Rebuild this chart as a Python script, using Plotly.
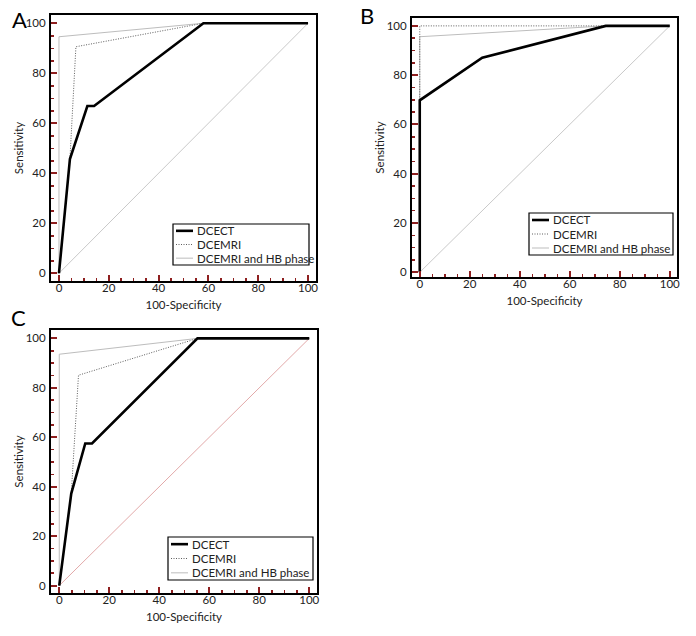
import plotly.graph_objects as go

W, H = 696, 636

# ---------------- data ----------------
series_names = ["DCECT", "DCEMRI", "DCEMRI and HB phase"]

# Panel A
a_dcect_x = [0, 4.4, 11.4, 14.1, 58, 100]
a_dcect_y = [0, 45.7, 66.9, 66.9, 100, 100]
a_mri_x = [0, 4.4, 6.8, 58, 100]
a_mri_y = [0, 45.7, 90.6, 100, 100]
a_hb_x = [0, 0, 58, 100]
a_hb_y = [0, 94.6, 100, 100]

# Panel B
b_dcect_x = [0, 0, 25, 74.4, 100]
b_dcect_y = [0, 69.8, 87.1, 100, 100]
b_mri_x = [0, 0, 100]
b_mri_y = [0, 100, 100]
b_hb_x = [0, 0, 74.4, 100]
b_hb_y = [0, 95.6, 100, 100]

# Panel C
c_dcect_x = [0, 4.8, 10.4, 13.1, 55.3, 100]
c_dcect_y = [0, 37.2, 57.5, 57.5, 100, 100]
c_mri_x = [0, 4.8, 7.7, 55.3, 100]
c_mri_y = [0, 37.2, 85.1, 100, 100]
c_hb_x = [0, 0, 55.3, 100]
c_hb_y = [0, 93.6, 100, 100]

diag_x = [0, 100]
diag_y = [0, 100]

tick_vals = [0, 20, 40, 60, 80, 100]
tick_text = ["0", "20", "40", "60", "80", "100"]

# ---------------- styles ----------------
FONT = "Lato, Roboto, sans-serif"
TXT = "#222222"
TICKRED = "#8e1f1f"
styles = [
    dict(color="black", width=2.6, dash="solid"),
    dict(color="#5e5e5e", width=1, dash="1px,1.5px"),
    dict(color="#bdbdbd", width=1, dash="solid"),
]


def fx(px):
    return px / W


def fy(py):
    return 1 - py / H


panels = [
    dict(letter="A", box=(51, 15, 316, 281), xr=[-3.2, 103.2], yr=[-3.1, 103.3],
         data=[(a_dcect_x, a_dcect_y), (a_mri_x, a_mri_y), (a_hb_x, a_hb_y)],
         diag="#c9c9c9", leg=(173, 224, 309, 265), lpos=(19, 19)),
    dict(letter="B", box=(412, 18, 677, 277), xr=[-3.1, 102.9], yr=[-1.9, 103.2],
         data=[(b_dcect_x, b_dcect_y), (b_mri_x, b_mri_y), (b_hb_x, b_hb_y)],
         diag="#c9c9c9", leg=(529, 213, 673, 255), lpos=(367, 16)),
    dict(letter="C", box=(51, 330, 317, 593), xr=[-3.3, 103.1], yr=[-3.0, 103.4],
         data=[(c_dcect_x, c_dcect_y), (c_mri_x, c_mri_y), (c_hb_x, c_hb_y)],
         diag="#e2a9a9", leg=(168, 537, 313, 580), lpos=(18, 317)),
]

fig = go.Figure()
shapes = []
annotations = []

for i, p in enumerate(panels):
    n = "" if i == 0 else str(i + 1)
    xa, ya = "x" + n, "y" + n
    fig.add_trace(go.Scatter(x=diag_x, y=diag_y, mode="lines", xaxis=xa, yaxis=ya,
                             line=dict(color=p["diag"], width=1), showlegend=False,
                             hoverinfo="skip"))
    for k in [2, 1, 0]:
        xs, ys = p["data"][k]
        fig.add_trace(go.Scatter(x=xs, y=ys, mode="lines", xaxis=xa, yaxis=ya,
                                 name=series_names[k], line=styles[k], showlegend=False))

    x0, y0, x1, y1 = p["box"]
    axis_common = dict(
        showgrid=False, zeroline=False, showline=True, mirror=True,
        linecolor="black", linewidth=2, automargin=False,
        ticks="inside", ticklen=6, tickwidth=2, tickcolor=TICKRED,
        tickmode="array", tickvals=tick_vals, ticktext=tick_text,
        minor=dict(ticks="inside", dtick=5, tick0=0, ticklen=3, tickwidth=1.5,
                   tickcolor=TICKRED, showgrid=False),
        tickfont=dict(family=FONT, size=11.5, color=TXT),
        fixedrange=True,
    )
    fig.layout["xaxis" + n] = dict(
        axis_common, domain=[fx(x0), fx(x1)], range=p["xr"], anchor=ya,
        ticklabelstandoff=-5,
        title=dict(text="100-Specificity", font=dict(family=FONT, size=11.5, color=TXT),
                   standoff=8),
    )
    fig.layout["yaxis" + n] = dict(
        axis_common, domain=[fy(y1), fy(y0)], range=p["yr"], anchor=xa,
        ticklabelstandoff=1,
        title=dict(text="Sensitivity", font=dict(family=FONT, size=11.5, color=TXT),
                   standoff=0),
    )

    lx, ly = p["lpos"]
    annotations.append(dict(text=p["letter"], x=fx(lx), y=fy(ly), xref="paper",
                            yref="paper", showarrow=False, xanchor="center",
                            yanchor="middle",
                            font=dict(family=FONT, size=22, color="black")))

    lx0, ly0, lx1, ly1 = p["leg"]
    shapes.append(dict(type="rect", xref="paper", yref="paper",
                       x0=fx(lx0), x1=fx(lx1), y0=fy(ly1), y1=fy(ly0),
                       line=dict(color="black", width=1.2), fillcolor="white",
                       layer="above"))
    row_h = (ly1 - ly0) / 3.0
    for k in range(3):
        cy = ly0 + row_h * (k + 0.5)
        shapes.append(dict(type="line", xref="paper", yref="paper",
                           x0=fx(lx0 + 3), x1=fx(lx0 + 20), y0=fy(cy), y1=fy(cy),
                           line=styles[k], layer="above"))
        annotations.append(dict(text=series_names[k], x=fx(lx0 + 22), y=fy(cy),
                                xref="paper", yref="paper", showarrow=False,
                                xanchor="left", yanchor="middle",
                                font=dict(family=FONT, size=11.5, color=TXT)))

fig.update_layout(
    width=W, height=H,
    margin=dict(l=0, r=0, t=0, b=0, autoexpand=False),
    paper_bgcolor="white", plot_bgcolor="white",
    showlegend=False, hovermode=False,
    shapes=shapes, annotations=annotations,
)

fig.write_html("out.html",
               config={"displayModeBar": False, "staticPlot": True},
               post_script="document.body.style.margin='0';document.body.style.overflow='hidden';")
